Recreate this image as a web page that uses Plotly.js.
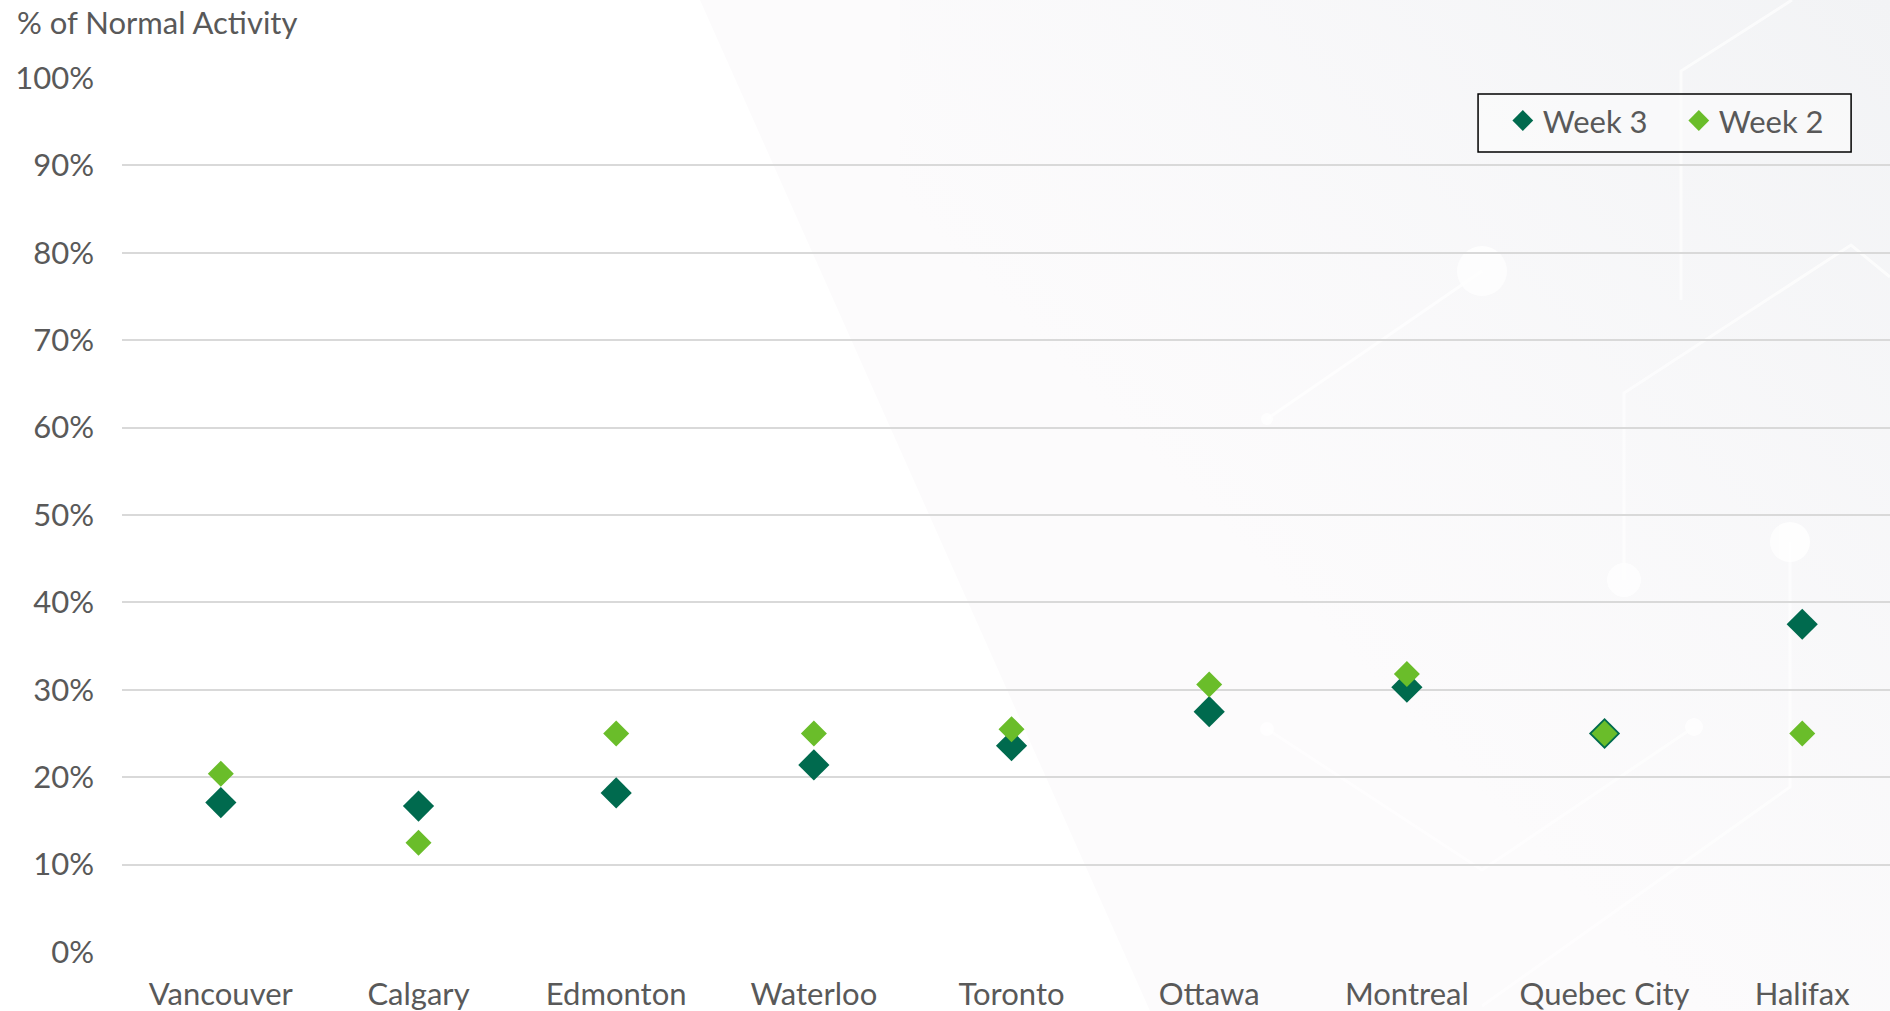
<!DOCTYPE html>
<html>
<head>
<meta charset="utf-8">
<script src="https://cdn.plot.ly/plotly-3.0.1.min.js"></script>
<style>
  html, body { margin: 0; padding: 0; width: 1890px; height: 1011px; overflow: hidden; background: #ffffff; }
  #bg { position: absolute; left: 0; top: 0; }
  #chart { position: absolute; left: 0; top: 0; width: 1890px; height: 1011px; }
</style>
</head>
<body>
<!-- decorative backdrop: soft grey panel with faint circuit traces -->
<svg id="bg" width="1890" height="1011" viewBox="0 0 1890 1011">
  <defs>
    <linearGradient id="shade" x1="0" y1="1" x2="1" y2="0">
      <stop offset="0.4" stop-color="#f4f5f7" stop-opacity="0"/>
      <stop offset="1" stop-color="#f2f3f5" stop-opacity="1"/>
    </linearGradient>
  </defs>
  <rect x="0" y="0" width="1890" height="1011" fill="#ffffff"/>
  <polygon points="700,0 1890,0 1890,1011 1150,1011" fill="#fcfbfc"/>
  <rect x="900" y="0" width="990" height="1011" fill="url(#shade)"/>
  <g stroke="#ffffff" stroke-width="3" fill="none" opacity="0.7">
    <polyline points="1792,0 1681,71 1681,300"/>
    <polyline points="1267,419 1482,271"/>
    <polyline points="1624,580 1624,393 1851,245 1890,277"/>
    <polyline points="1790,542 1790,787 1482,1006"/>
    <polyline points="1267,729 1482,870 1694,727"/>
  </g>
  <g fill="#ffffff" opacity="0.8">
    <circle cx="1482" cy="271" r="25"/>
    <circle cx="1624" cy="580" r="17"/>
    <circle cx="1790" cy="542" r="20"/>
    <circle cx="1694" cy="727" r="9"/>
    <circle cx="1267" cy="729" r="7"/>
    <circle cx="1267" cy="419" r="6"/>
  </g>
</svg>
<div id="chart"></div>
<script>
// Share of normal activity by city, two consecutive weeks
const cities = ["Vancouver", "Calgary", "Edmonton", "Waterloo", "Toronto",
                "Ottawa", "Montreal", "Quebec City", "Halifax"];
const week3 = [17.1, 16.7, 18.2, 21.4, 23.6, 27.5, 30.3, 25.0, 37.5];
const week2 = [20.4, 12.5, 25.0, 25.0, 25.5, 30.6, 31.8, 25.0, 25.0];
const yTicks = [0, 10, 20, 30, 40, 50, 60, 70, 80, 90, 100];

const textColor = "#595959";
const fontFamily = "Lato, 'Noto Sans', sans-serif";
const fontSize = 31;

const traces = [
  {
    type: "scatter", mode: "markers", name: "Week 3",
    x: cities, y: week3,
    marker: { symbol: "diamond", size: 24, color: "#006a4e", line: { width: 0 } }
  },
  {
    type: "scatter", mode: "markers", name: "Week 2",
    x: cities, y: week2,
    marker: { symbol: "diamond", size: 20, color: "#6abd2a", line: { width: 0 } }
  }
];

const layout = {
  width: 1890, height: 1011,
  margin: { l: 122, r: 0, t: 78, b: 59, pad: 0 },
  paper_bgcolor: "rgba(0,0,0,0)",
  plot_bgcolor: "rgba(0,0,0,0)",
  font: { family: fontFamily, color: textColor, size: fontSize },
  showlegend: true,
  legend: {
    orientation: "h",
    x: 0.781, xanchor: "left",
    y: 0.951, yanchor: "middle",
    bgcolor: "rgba(0,0,0,0)",
    borderwidth: 0,
    entrywidth: 131, entrywidthmode: "pixels",
    font: { family: fontFamily, size: fontSize, color: textColor },
    traceorder: "normal"
  },
  // legend frame
  shapes: [
    {
      type: "rect", xref: "paper", yref: "paper", layer: "below",
      x0: 0.767, x1: 0.978, y0: 0.9153, y1: 0.9817,
      line: { color: "#000000", width: 1.5 },
      fillcolor: "rgba(251,251,252,0.6)"
    }
  ],
  xaxis: {
    type: "category",
    range: [-0.5, 8.444],
    showgrid: false, zeroline: false, showline: false,
    ticks: "", ticklabelstandoff: 21,
    tickfont: { family: fontFamily, size: fontSize, color: textColor },
    automargin: false, fixedrange: true
  },
  yaxis: {
    range: [0, 100],
    tickvals: yTicks,
    ticktext: yTicks.map(v => v + "%"),
    showgrid: true, gridcolor: "#d9d9d9", gridwidth: 2,
    zeroline: false, showline: false,
    ticks: "", ticklabelstandoff: 27,
    tickfont: { family: fontFamily, size: fontSize, color: textColor },
    automargin: false, fixedrange: true
  },
  annotations: [
    {
      text: "% of Normal Activity",
      xref: "paper", yref: "paper",
      x: -0.0605, xanchor: "left",
      y: 1.064, yanchor: "middle",
      showarrow: false,
      font: { family: fontFamily, size: fontSize, color: textColor }
    }
  ]
};

Plotly.newPlot("chart", traces, layout, { staticPlot: true, displayModeBar: false });
</script>
</body>
</html>
